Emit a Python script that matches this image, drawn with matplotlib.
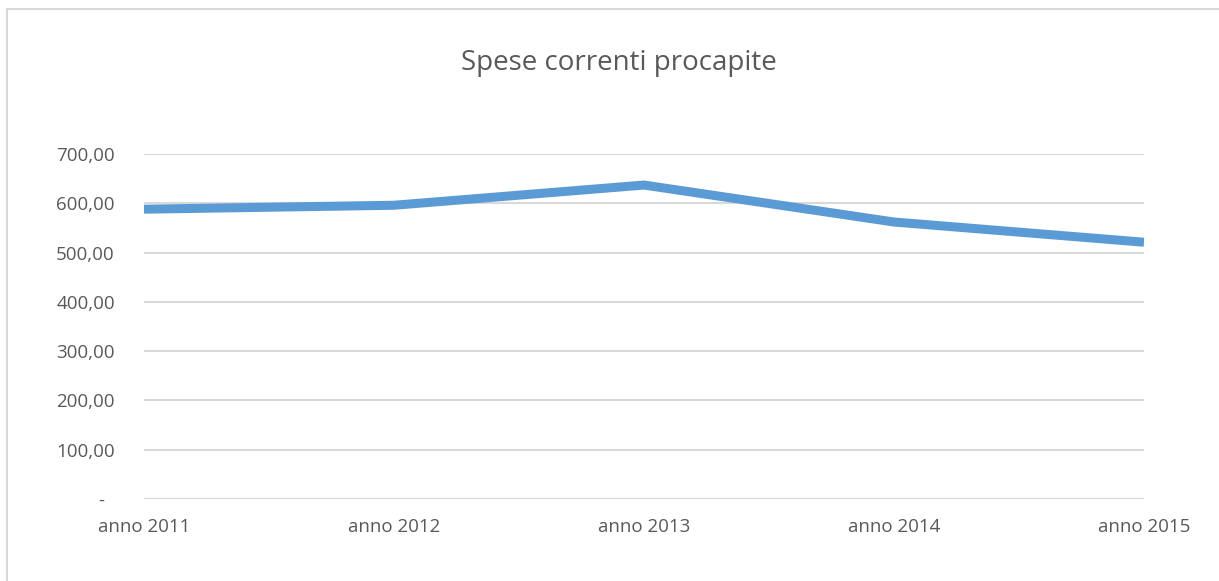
import numpy as np
import matplotlib.pyplot as plt
from matplotlib.patches import Rectangle

anni = ['anno 2011', 'anno 2012', 'anno 2013', 'anno 2014', 'anno 2015']
spese = [588.0, 596.0, 637.0, 562.0, 521.0]
y_ticks = [0, 100, 200, 300, 400, 500, 600, 700]
y_labels = ['-  ', '100,00', '200,00', '300,00', '400,00', '500,00', '600,00', '700,00']

plt.rcParams['font.family'] = ['Open Sans', 'DejaVu Sans']
grigio = '#595959'

fig = plt.figure(figsize=(12.19, 5.81), dpi=100)
ax = fig.add_axes([144/1219, 1-499/581, 1000/1219, 345/581])

#frame of the chart area
fig.patches.append(Rectangle((7/1219, -0.01), 1.0, 1-9/581+0.01, transform=fig.transFigure,
                             fill=False, edgecolor='#d9d9d9', linewidth=1.5))

x = np.arange(len(anni))
ax.plot(x, spese, color='#5b9bd5', linewidth=6.5, solid_capstyle='butt', zorder=3)

ax.set_xlim(0, len(anni)-1)
ax.set_ylim(0, 700)
ax.set_yticks(y_ticks)
ax.set_yticklabels(y_labels)
ax.set_xticks(x)
ax.set_xticklabels(anni)
ax.grid(axis='y', color='#d9d9d9', linewidth=1.5)
ax.tick_params(length=0, labelsize=13.5, colors=grigio)
ax.tick_params(axis='y', pad=21)
ax.tick_params(axis='x', pad=14)
for s in ax.spines.values():
    s.set_visible(False)

fig.text(619/1219, 1-63/581, 'Spese correnti procapite', ha='center', va='center',
         fontsize=20, color=grigio)

fig.savefig('out.png', dpi=100)
